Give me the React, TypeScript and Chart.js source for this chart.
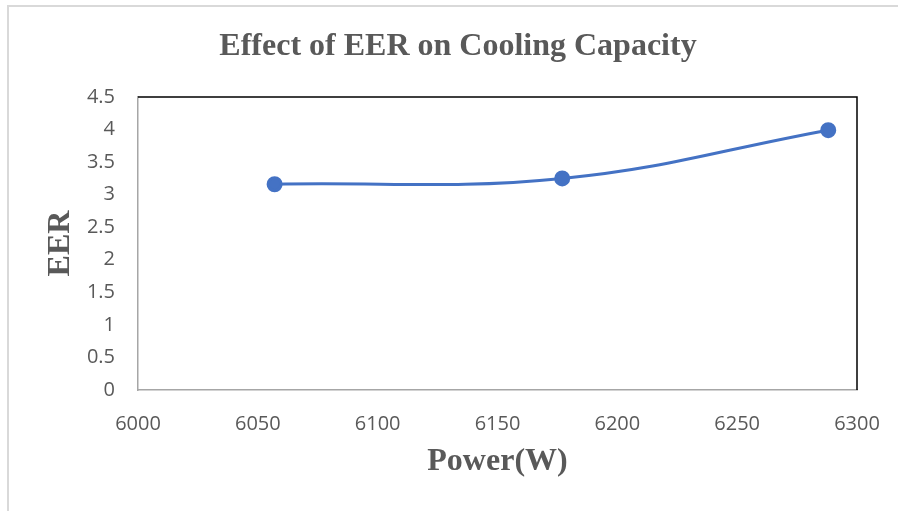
import React, { useEffect, useRef } from "react";
import { Chart, registerables } from "chart.js";

Chart.register(...registerables);

const powerW = [6057, 6177, 6288];
const eerValues = [3.16, 3.25, 3.99];
const chartTitle = "Effect of EER on Cooling Capacity";
const xTitle = "Power(W)";
const yTitle = "EER";

const frameEdges = {
  id: "frameEdges",
  afterDraw(chart: any) {
    const { ctx, chartArea } = chart;
    const { left, right, top, bottom } = chartArea;
    ctx.save();
    ctx.lineWidth = 1.5;
    ctx.strokeStyle = "#000000";
    ctx.beginPath();
    ctx.moveTo(left, top);
    ctx.lineTo(right, top);
    ctx.lineTo(right, bottom);
    ctx.stroke();
    ctx.restore();
  },
};

export default function App() {
  const ref = useRef<HTMLCanvasElement>(null);
  useEffect(() => {
    document.body.style.margin = "0";
    const ctx = ref.current!.getContext("2d")!;
    const tickFont = { family: "'Open Sans', sans-serif", size: 20 };
    const titleFont = { family: "'Liberation Serif', serif", size: 32, weight: "bold" as const };
    const chart = new Chart(ctx, {
      type: "line",
      data: {
        datasets: [
          {
            data: powerW.map((x, i) => ({ x, y: eerValues[i] })),
            borderColor: "#4472C4",
            backgroundColor: "#4472C4",
            borderWidth: 3,
            pointRadius: 6.5,
            pointHoverRadius: 6.5,
            tension: 0.4,
          },
        ],
      },
      options: {
        animation: false,
        responsive: false,
        events: [],
        layout: { padding: { left: 59, right: 41, top: 0, bottom: 0 } },
        plugins: {
          legend: { display: false },
          tooltip: { enabled: false },
          title: {
            display: true,
            text: chartTitle,
            color: "#595959",
            font: titleFont,
            padding: { top: 28, bottom: 30.6 },
          },
        },
        scales: {
          x: {
            type: "linear",
            min: 6000,
            max: 6300,
            ticks: {
              stepSize: 50,
              color: "#595959",
              font: tickFont,
              padding: 22,
              maxRotation: 0,
              callback: (v: any) => String(v),
            },
            grid: { display: false, drawTicks: false },
            border: { display: true, color: "#a6a6a6", width: 1.5 },
            title: {
              display: true,
              text: xTitle,
              color: "#595959",
              font: titleFont,
              padding: { top: 0, bottom: 29.6 },
            },
            afterFit(scale: any) {
              scale.height = 121;
              scale.paddingLeft = 0;
              scale.paddingRight = 0;
            },
          },
          y: {
            min: 0,
            max: 4.5,
            ticks: {
              stepSize: 0.5,
              color: "#595959",
              font: tickFont,
              padding: 23,
              callback: (v: any) => String(v),
            },
            grid: { display: false, drawTicks: false },
            border: { display: true, color: "#a6a6a6", width: 1.5 },
            title: {
              display: true,
              text: yTitle,
              color: "#595959",
              font: titleFont,
              padding: { top: -17, bottom: 0 },
            },
            afterFit(scale: any) {
              scale.width = 79;
              scale.paddingTop = 0;
              scale.paddingBottom = 0;
            },
          },
        },
      },
      plugins: [frameEdges],
    });
    return () => chart.destroy();
  }, []);
  return (
    <div style={{ position: "fixed", left: 0, top: 0, width: 898, height: 511, background: "#fff" }}>
      <canvas ref={ref} width={898} height={511} style={{ position: "absolute", left: 0, top: 0 }} />
      <div
        style={{
          position: "absolute",
          left: 7,
          top: 5,
          width: 898,
          height: 520,
          borderLeft: "2px solid #d9d9d9",
          borderTop: "2px solid #d9d9d9",
          boxSizing: "border-box",
          pointerEvents: "none",
        }}
      />
    </div>
  );
}
